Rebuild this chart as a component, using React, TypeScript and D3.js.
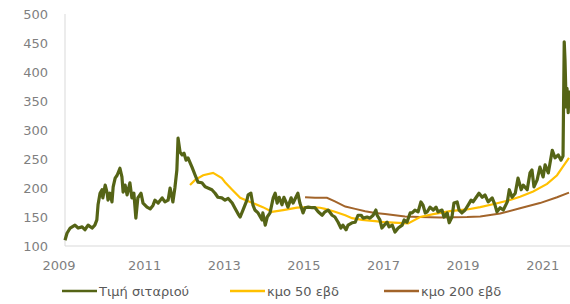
import React from "react";
import * as d3 from "d3";

// weekly wheat price as [decimal year, value]
const price: [number, number][] = [
  [2009.0, 110], [2009.05, 122], [2009.13, 131], [2009.25, 136], [2009.33, 131],
  [2009.43, 133], [2009.5, 128], [2009.58, 136], [2009.68, 131], [2009.75, 136],
  [2009.8, 145], [2009.83, 171], [2009.88, 191], [2009.93, 197], [2009.95, 183],
  [2010.01, 205], [2010.06, 191], [2010.08, 179], [2010.13, 191], [2010.18, 176],
  [2010.21, 202], [2010.26, 217], [2010.31, 222], [2010.38, 234], [2010.43, 219],
  [2010.46, 193], [2010.51, 205], [2010.56, 188], [2010.63, 209], [2010.68, 183],
  [2010.73, 191], [2010.78, 148], [2010.83, 183], [2010.91, 191], [2010.96, 174],
  [2011.06, 167], [2011.14, 164], [2011.21, 170], [2011.26, 179], [2011.34, 174],
  [2011.44, 183], [2011.51, 176], [2011.59, 179], [2011.64, 200], [2011.71, 176],
  [2011.76, 200], [2011.81, 231], [2011.84, 286], [2011.89, 262], [2011.94, 257],
  [2011.99, 260], [2012.04, 248], [2012.09, 252], [2012.19, 236], [2012.27, 222],
  [2012.34, 210], [2012.44, 209], [2012.52, 202], [2012.59, 200], [2012.69, 197],
  [2012.77, 191], [2012.84, 184], [2012.94, 183], [2013.02, 179], [2013.1, 182],
  [2013.2, 174], [2013.27, 165], [2013.35, 155], [2013.4, 150], [2013.47, 162],
  [2013.57, 179], [2013.6, 188], [2013.67, 191], [2013.72, 171], [2013.77, 162],
  [2013.85, 157], [2013.95, 145], [2013.97, 157], [2014.03, 136], [2014.08, 150],
  [2014.15, 157], [2014.23, 183], [2014.28, 191], [2014.33, 174], [2014.38, 184],
  [2014.45, 171], [2014.5, 184], [2014.55, 176], [2014.6, 167], [2014.68, 183],
  [2014.73, 174], [2014.8, 184], [2014.85, 191], [2014.9, 174], [2014.98, 157],
  [2015.03, 166], [2015.11, 167], [2015.21, 166], [2015.28, 166], [2015.36, 159],
  [2015.46, 153], [2015.53, 159], [2015.61, 162], [2015.71, 153], [2015.78, 150],
  [2015.86, 141], [2015.93, 131], [2015.98, 136], [2016.06, 128], [2016.11, 136],
  [2016.21, 140], [2016.29, 141], [2016.36, 153], [2016.44, 153], [2016.49, 148],
  [2016.59, 150], [2016.66, 148], [2016.74, 153], [2016.81, 162], [2016.84, 153],
  [2016.91, 145], [2016.96, 131], [2017.02, 136], [2017.09, 141], [2017.14, 133],
  [2017.22, 136], [2017.29, 124], [2017.37, 131], [2017.47, 136], [2017.52, 145],
  [2017.59, 141], [2017.67, 157], [2017.72, 157], [2017.79, 162], [2017.87, 159],
  [2017.94, 176], [2017.99, 171], [2018.05, 157], [2018.1, 159], [2018.17, 167],
  [2018.25, 162], [2018.32, 167], [2018.37, 159], [2018.47, 162], [2018.52, 150],
  [2018.6, 157], [2018.65, 140], [2018.72, 150], [2018.77, 174], [2018.85, 176],
  [2018.9, 162], [2018.97, 157], [2019.05, 162], [2019.13, 171], [2019.2, 179],
  [2019.25, 176], [2019.33, 184], [2019.4, 191], [2019.48, 184], [2019.55, 188],
  [2019.63, 176], [2019.73, 183], [2019.8, 171], [2019.85, 159], [2019.93, 166],
  [2020.01, 162], [2020.11, 176], [2020.16, 197], [2020.23, 184], [2020.31, 191],
  [2020.38, 217], [2020.46, 197], [2020.51, 205], [2020.61, 197], [2020.68, 226],
  [2020.73, 231], [2020.78, 202], [2020.86, 214], [2020.93, 236], [2021.01, 219],
  [2021.06, 240], [2021.14, 226], [2021.24, 265], [2021.31, 252], [2021.39, 257],
  [2021.46, 248], [2021.51, 255], [2021.54, 452], [2021.56, 420], [2021.59, 340],
  [2021.61, 372], [2021.64, 330], [2021.66, 368],
];

// 50 week moving average
const ma50: [number, number][] = [
  [2012.14, 205], [2012.27, 214], [2012.47, 222], [2012.72, 226], [2012.94, 217],
  [2013.02, 210], [2013.2, 197], [2013.4, 183], [2013.65, 176], [2013.97, 167],
  [2014.2, 159], [2014.48, 162], [2014.83, 166], [2015.16, 167], [2015.41, 166],
  [2015.53, 164], [2015.78, 159], [2016.04, 153], [2016.21, 148], [2016.46, 145],
  [2016.79, 143], [2017.04, 141], [2017.37, 140], [2017.62, 139], [2017.92, 150],
  [2018.25, 155], [2018.67, 160], [2019.1, 163], [2019.43, 167], [2019.75, 172],
  [2020.11, 178], [2020.43, 185], [2020.76, 194], [2021.11, 207], [2021.36, 222],
  [2021.49, 235], [2021.66, 252],
];

// 200 week moving average
const ma200: [number, number][] = [
  [2015.03, 184], [2015.28, 183], [2015.58, 183], [2015.78, 177], [2016.04, 168],
  [2016.29, 164], [2016.54, 160], [2016.79, 157], [2017.04, 155], [2017.29, 153],
  [2017.54, 151], [2017.92, 150], [2018.42, 149], [2019.1, 150], [2019.43, 151],
  [2019.93, 156], [2020.43, 165], [2020.93, 174], [2021.36, 184], [2021.66, 192],
];

const yTicks = [100, 150, 200, 250, 300, 350, 400, 450, 500];
const xTicks = [2009, 2011, 2013, 2015, 2017, 2019, 2021];

const legendItems = [
  { label: "Τιμή σιταριού", color: "#556416", x: 62 },
  { label: "κμο 50 εβδ", color: "#FFC000", x: 230 },
  { label: "κμο 200 εβδ", color: "#A2642A", x: 384 },
];

const width = 570;
const height = 304;
const font = "'DejaVu Sans', Verdana, sans-serif";

const App: React.FC = () => {
  const x = d3.scaleLinear().domain([2009, 2021.66]).range([65, 569]);
  const y = d3.scaleLinear().domain([100, 500]).range([246, 14]);

  const line = d3
    .line<[number, number]>()
    .x((d) => x(d[0]))
    .y((d) => y(d[1]));

  return (
    <svg
      width={width}
      height={height}
      style={{ position: "absolute", left: 0, top: 0, background: "#fff" }}
    >
      {/* axis lines */}
      <line x1={x(2009)} x2={x(2009)} y1={y(500)} y2={y(100)} stroke="#d9d9d9" />
      <line x1={x(2009)} x2={width} y1={y(100)} y2={y(100)} stroke="#d9d9d9" />

      {yTicks.map((t) => (
        <text
          key={t}
          x={48}
          y={y(t)}
          dy="0.36em"
          textAnchor="end"
          fontFamily={font}
          fontSize={13}
          fill="#7f7f7f"
        >
          {t}
        </text>
      ))}
      {xTicks.map((t) => (
        <text
          key={t}
          x={t === 2009 ? x(t) - 6 : x(t)}
          y={270}
          textAnchor="middle"
          fontFamily={font}
          fontSize={13}
          fill="#7f7f7f"
        >
          {t}
        </text>
      ))}

      <path d={line(ma200) || ""} fill="none" stroke="#A2642A" strokeWidth={2} />
      <path d={line(ma50) || ""} fill="none" stroke="#FFC000" strokeWidth={2.2} />
      <path
        d={line(price) || ""}
        fill="none"
        stroke="#556416"
        strokeWidth={3.2}
        strokeLinejoin="round"
      />

      {legendItems.map((it) => (
        <g key={it.label} transform={`translate(${it.x},291)`}>
          <line x1={0} x2={35} y1={0} y2={0} stroke={it.color} strokeWidth={2.5} />
          <text
            x={37}
            dy="0.36em"
            fontFamily={font}
            fontSize={13}
            fill="#595959"
          >
            {it.label}
          </text>
        </g>
      ))}
    </svg>
  );
};

export default App;
